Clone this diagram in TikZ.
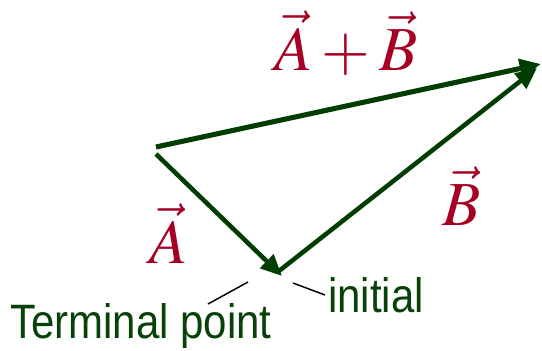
\documentclass[tikz,border=0pt]{standalone}
\usepackage{mathptmx}
\usepackage[no-math]{fontspec}
\setsansfont{Liberation Sans}
\usepackage{tikz}
\usetikzlibrary{arrows.meta}
\definecolor{vecgreen}{RGB}{0,61,0}
\definecolor{lblred}{RGB}{165,0,35}
\definecolor{txtgreen}{RGB}{8,66,8}
\tikzset{
  vec/.style={-{Triangle[length=16pt, width=14pt]}, line width=3.4pt, draw=vecgreen},
  vlbl/.style={text=lblred, inner sep=0pt, anchor=base,
               font=\fontsize{47}{50}\selectfont},
  ptxt/.style={text=txtgreen, inner sep=0pt, anchor=base west,
               font=\sffamily\fontsize{31.5}{36}\selectfont, yscale=1.15},
  lead/.style={line width=1.1pt, black}
}
\begin{document}
\begin{tikzpicture}[x=0.75pt, y=-0.75pt]
  \useasboundingbox (0,0) rectangle (542,350);
  % end points of the three vectors
  \coordinate (tailS) at (156,147);
  \coordinate (tipS) at (541,64);
  \coordinate (tailA) at (156,154);
  \coordinate (tipA) at (282,276);
  \coordinate (tailB) at (279,271);
  \coordinate (tipB) at (537,68);
  \draw[vec, line width=3.8pt] (tailS) -- (tipS);
  \draw[vec] (tailA) -- (tipA);
  \draw[vec] (tailB) -- (tipB);
  % labels
  \node[vlbl] (labS) at (346,70) {$\vec{A}+\vec{B}$};
  \node[vlbl] (labA) at (169,263) {$\vec{A}$};
  \node[vlbl] (labB) at (462,225) {$\vec{B}$};
  \node[ptxt] (term) at (10,338) {Terminal point};
  \node[ptxt] (init) at (328,312) {initial};
  % pointers
  \coordinate (termA) at (208,304);
  \coordinate (termB) at (248,282);
  \coordinate (initA) at (293,283);
  \coordinate (initB) at (325,295);
  \draw[lead] (termA) -- (termB);
  \draw[lead] (initA) -- (initB);
\end{tikzpicture}
\end{document}
